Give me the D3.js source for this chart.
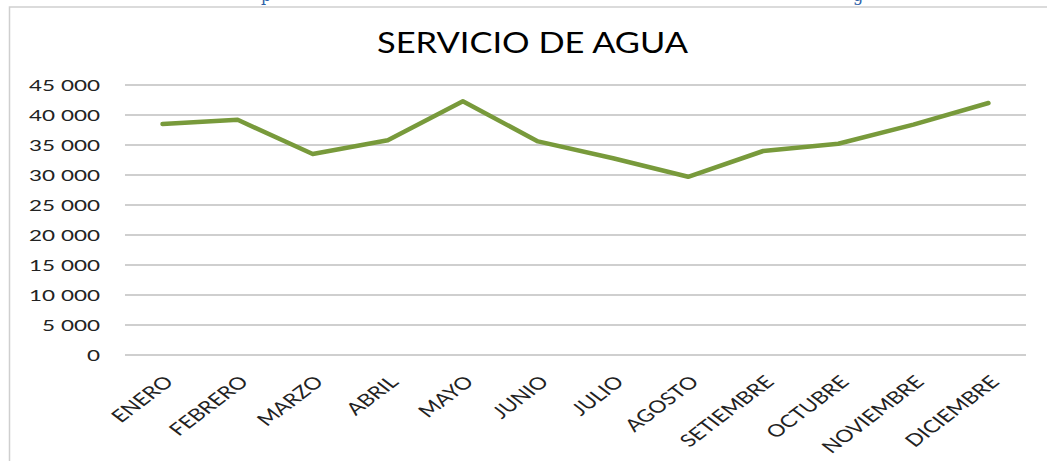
<!DOCTYPE html>
<html>
<head>
<meta charset="utf-8">
<script src="https://cdn.jsdelivr.net/npm/d3@7"></script>
<style>
  body { margin: 0; background: #fff; }
  svg { display: block; }
</style>
</head>
<body>
<svg width="1047" height="461"></svg>
<script>
var months = ["ENERO", "FEBRERO", "MARZO", "ABRIL", "MAYO", "JUNIO", "JULIO",
              "AGOSTO", "SETIEMBRE", "OCTUBRE", "NOVIEMBRE", "DICIEMBRE"];
var values = [38500, 39200, 33500, 35800, 42300, 35600, 32800, 29700, 34000, 35200, 38400, 42000];
var yTicks = [0, 5000, 10000, 15000, 20000, 25000, 30000, 35000, 40000, 45000];

var font = "Lato, 'Open Sans', sans-serif";
var lineColor = "#789a3b";
var gridColor = "#bfbfbf";

var svg = d3.select("svg");

var x = d3.scalePoint().domain(months).range([125, 1026]).padding(0.5);
var y = d3.scaleLinear().domain([0, 45000]).range([355, 85]);

var fmt = function(d) { return d3.format(",")(d).replace(/,/g, " "); };

// bits of the caption above, cut off by the page edge
svg.append("text").attr("x", 261).attr("y", 0.5)
   .attr("font-family", "'DejaVu Serif', serif").attr("font-size", 16)
   .attr("fill", "#2e5fa8").text("p");
svg.append("text").attr("x", 853).attr("y", 0.5)
   .attr("font-family", "'DejaVu Serif', serif").attr("font-size", 16)
   .attr("fill", "#2e5fa8").text("g");

// frame
svg.append("path")
   .attr("d", "M9.5,461V7H1047")
   .attr("fill", "none")
   .attr("stroke", "#cfcfcf")
   .attr("stroke-width", 1.5);

// title
svg.append("text")
   .attr("x", 532.5)
   .attr("y", 53)
   .attr("text-anchor", "middle")
   .attr("font-family", font)
   .attr("font-size", 28)
   .attr("fill", "#000")
   .attr("textLength", 311)
   .attr("lengthAdjust", "spacingAndGlyphs")
   .text("SERVICIO DE AGUA");

// gridlines
svg.append("g")
   .selectAll("line")
   .data(yTicks)
   .enter().append("line")
   .attr("x1", 125)
   .attr("x2", 1026)
   .attr("y1", function(d) { return y(d); })
   .attr("y2", function(d) { return y(d); })
   .attr("stroke", gridColor)
   .attr("stroke-width", 1.6);

// y labels, stretched sideways like the source picture
var yLab = svg.append("g")
   .selectAll("text")
   .data(yTicks)
   .enter().append("text")
   .attr("text-anchor", "end")
   .attr("font-family", font)
   .attr("font-size", 16)
   .attr("fill", "#222")
   .text(fmt);

var ref = yLab.filter(function(d) { return d == 45000; }).node().getComputedTextLength();
var sy = 71 / ref;
yLab.attr("transform", function(d) {
  return "translate(100," + (y(d) + 5.8) + ") scale(" + sy + ",1)";
});

// x labels, rotated and stretched
var xLab = svg.append("g")
   .selectAll("text")
   .data(months)
   .enter().append("text")
   .attr("text-anchor", "end")
   .attr("font-family", font)
   .attr("font-size", 16)
   .attr("fill", "#222")
   .text(function(d) { return d; });

var setLen = xLab.filter(function(d) { return d == "SETIEMBRE"; }).node().getComputedTextLength();
xLab.attr("font-size", 16 * 92 / setLen);
var sx = 1.32;
xLab.attr("transform", function(d) {
  return "translate(" + (x(d) + 12) + ",383) scale(" + sx + ",1) rotate(-45)";
});

// the series
var line = d3.line()
   .x(function(d, i) { return x(months[i]); })
   .y(function(d) { return y(d); });

svg.append("path")
   .datum(values)
   .attr("fill", "none")
   .attr("stroke", lineColor)
   .attr("stroke-width", 4.5)
   .attr("stroke-linejoin", "round")
   .attr("stroke-linecap", "round")
   .attr("d", line);
</script>
</body>
</html>
